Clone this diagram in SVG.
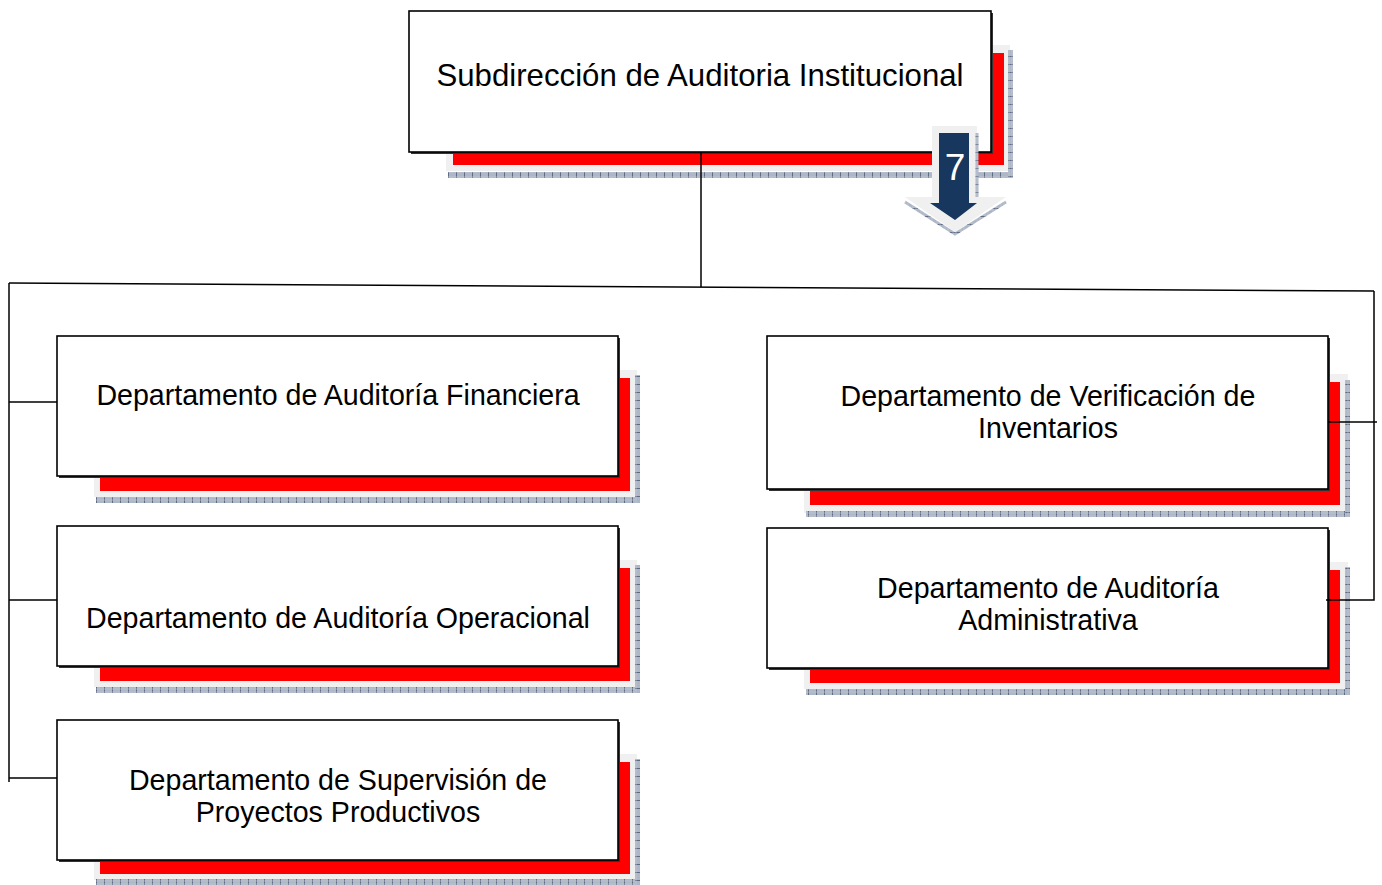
<svg xmlns="http://www.w3.org/2000/svg" width="1382" height="885" viewBox="0 0 1382 885">
<defs>
<pattern id="hh" width="8" height="8" patternUnits="userSpaceOnUse"><rect width="8" height="8" fill="#aeb7c6"/><path d="M0.5 0V8" stroke="#5d6b86" stroke-width="1"/><path d="M0 1H8M0 4H8" stroke="#c4cbd6" stroke-width="0.6"/></pattern>
<pattern id="hv" width="8" height="8" patternUnits="userSpaceOnUse"><rect width="8" height="8" fill="#aeb7c6"/><path d="M0 0.5H8" stroke="#5d6b86" stroke-width="1"/><path d="M1 0V8M4 0V8" stroke="#c4cbd6" stroke-width="0.6"/></pattern>
</defs>
<style>
.bg{fill:#f0f0f0}
.red{fill:#ff0000}
.hb{fill:url(#hh)}
.hr{fill:url(#hv)}
.sh{fill:#333}
.box{fill:#fff;stroke:#000;stroke-width:1.6}
.t{font-family:"Liberation Sans",Arial,sans-serif;font-size:28.6px;fill:#000;text-anchor:middle}
.c{fill:none;stroke:#000;stroke-width:1.5}
</style>
<rect width="1382" height="885" fill="#fff"/>

<g id="n-top">
<rect class="bg" x="446" y="45" width="564" height="126"/>
<rect class="red" x="453" y="53" width="551" height="112"/>
<rect class="hb" x="448" y="172" width="565" height="6"/>
<rect class="hr" x="1008" y="50" width="5" height="128"/>
<rect class="sh" x="411" y="13" width="582" height="141"/>
<rect class="box" x="409" y="11" width="582" height="141"/>
<text class="t" x="700" y="86" style="font-size:31.2px">Subdirección de Auditoria Institucional</text>
</g>

<g id="n-arrow">
<polygon points="932,126 977,126 977,197 1006,197 955,232 905,197 932,197" fill="#f0f0f0"/>
<path d="M977,133 V197 M1006,202 L955,234 L905,202" fill="none" stroke="url(#hv)" stroke-width="3"/>
<polygon points="939,133 969,133 969,203 977,203 955,220 930,203 939,203" fill="#17375e"/>
<text x="955" y="180" font-family="Liberation Sans,Arial,sans-serif" font-size="37" fill="#fff" text-anchor="middle">7</text>
</g>

<g id="n-fin">
<rect class="bg" x="94" y="370" width="543" height="127"/>
<rect class="red" x="100" y="378" width="530" height="113"/>
<rect class="hb" x="96" y="497" width="544" height="6"/>
<rect class="hr" x="635" y="375" width="5" height="128"/>
<rect class="sh" x="59" y="338" width="561" height="140"/>
<rect class="box" x="57" y="336" width="561" height="140"/>
<text class="t" x="338" y="405">Departamento de Auditoría Financiera</text>
</g>

<g id="n-ope">
<rect class="bg" x="94" y="560" width="543" height="127"/>
<rect class="red" x="100" y="568" width="530" height="113"/>
<rect class="hb" x="96" y="687" width="544" height="6"/>
<rect class="hr" x="635" y="565" width="5" height="128"/>
<rect class="sh" x="59" y="528" width="561" height="140"/>
<rect class="box" x="57" y="526" width="561" height="140"/>
<text class="t" x="338" y="628">Departamento de Auditoría Operacional</text>
</g>

<g id="n-sup">
<rect class="bg" x="94" y="754" width="543" height="126"/>
<rect class="red" x="100" y="762" width="530" height="112"/>
<rect class="hb" x="96" y="879" width="544" height="6"/>
<rect class="hr" x="635" y="759" width="5" height="126"/>
<rect class="sh" x="59" y="722" width="561" height="140"/>
<rect class="box" x="57" y="720" width="561" height="140"/>
<text class="t" x="338" y="790">Departamento de Supervisión de</text>
<text class="t" x="338" y="822">Proyectos Productivos</text>
</g>

<g id="n-inv">
<rect class="bg" x="804" y="374" width="544" height="139"/>
<rect class="red" x="810" y="382" width="530" height="123"/>
<rect class="hb" x="806" y="511" width="544" height="6"/>
<rect class="hr" x="1345" y="380" width="5" height="137"/>
<rect class="sh" x="769" y="338" width="561" height="153"/>
<rect class="box" x="767" y="336" width="561" height="153"/>
<text class="t" x="1048" y="406">Departamento de Verificación de</text>
<text class="t" x="1048" y="438">Inventarios</text>
</g>

<g id="n-adm">
<rect class="bg" x="804" y="562" width="544" height="127"/>
<rect class="red" x="810" y="570" width="530" height="113"/>
<rect class="hb" x="806" y="689" width="544" height="6"/>
<rect class="hr" x="1345" y="567" width="5" height="128"/>
<rect class="sh" x="769" y="530" width="561" height="140"/>
<rect class="box" x="767" y="528" width="561" height="140"/>
<text class="t" x="1048" y="598">Departamento de Auditoría</text>
<text class="t" x="1048" y="630">Administrativa</text>
</g>

<g id="connectors">
<path class="c" d="M701,152 V287"/>
<path class="c" d="M9,283 L1374,291"/>
<path class="c" d="M9,283 V782"/>
<path class="c" d="M9,402 H57 M9,600 H57 M9,778 H57"/>
<path class="c" d="M1374,291 V600 H1326 M1328,422 H1377"/>
</g>
</svg>
